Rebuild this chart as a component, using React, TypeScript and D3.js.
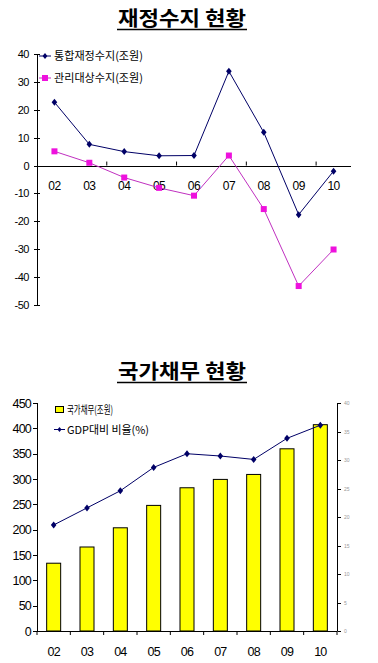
import React from "react";
import * as d3 from "d3";

const years = ["02", "03", "04", "05", "06", "07", "08", "09", "10"];
const consolidatedBalance = [22.7, 7.6, 5.0, 3.5, 3.6, 33.8, 11.9, -17.6, -2.0];
const managedBalance = [5.1, 1.0, -4.3, -8.0, -10.8, 3.6, -15.6, -43.2, -30.1];
const topTicks = [40, 30, 20, 10, 0, -10, -20, -30, -40, -50];

const nationalDebt = [133.8, 165.8, 203.7, 247.9, 282.7, 299.2, 309.0, 359.6, 407.2];
const gdpRatio = [18.6, 21.6, 24.6, 28.7, 31.1, 30.7, 30.1, 33.8, 36.1];
const leftTicks = [0, 50, 100, 150, 200, 250, 300, 350, 400, 450];
const rightTicks = [0, 5, 10, 15, 20, 25, 30, 35, 40];

const title1 = "재정수지 현황";
const title2 = "국가채무 현황";
const legendTop = ["통합재정수지(조원)", "관리대상수지(조원)"];
const legendBottom = ["국가채무(조원)", "GDP대비 비율(%)"];

const NAVY = "#000066";
const MAG_LINE = "#c030c0";
const MAG = "#ee11dd";
const KR = "'Noto Sans CJK KR', sans-serif";
const NUM = "'Liberation Sans', Arial, sans-serif";

function Diamond({ x, y, s = 3, color = NAVY }: any) {
  return (
    <path
      d={`M${x},${y - s}L${x + s * 0.8},${y}L${x},${y + s}L${x - s * 0.8},${y}Z`}
      fill={color}
    />
  );
}

export default function App() {
  // Top chart
  const xT = d3.scaleBand<string>().domain(years).range([37, 351]);
  const yT = d3.scaleLinear().domain([-50, 40]).range([305, 54]);
  const cxT = (i: number) => (xT(years[i]) as number) + xT.bandwidth() / 2;
  const lineT = d3
    .line<number>()
    .x((_, i) => cxT(i))
    .y((d) => yT(d));

  // Bottom chart
  const xB = d3.scaleBand<string>().domain(years).range([37, 337]);
  const yL = d3.scaleLinear().domain([0, 450]).range([631, 403]);
  const yR = d3.scaleLinear().domain([0, 40]).range([631, 403]);
  const cxB = (i: number) => (xB(years[i]) as number) + xB.bandwidth() / 2;
  const barW = xB.bandwidth() * 0.42;
  const lineB = d3
    .line<number>()
    .x((_, i) => cxB(i))
    .y((d) => yR(d));

  const boundariesT = years.map((_, i) => xT(years[i]) as number).concat([xT.range()[1]]);
  const boundariesB = years.map((_, i) => xB(years[i]) as number).concat([xB.range()[1]]);

  return (
    <svg
      width={378}
      height={663}
      style={{ position: "absolute", left: 0, top: 0, background: "#fff" }}
    >
      <rect x={0} y={0} width={378} height={663} fill="#fff" />
      {/* Title 1 */}
      <text x={182} y={26} textAnchor="middle" fontFamily={KR} fontWeight={700} fontSize={20} textLength={128} lengthAdjust="spacingAndGlyphs" fill="#000">
        {title1}
      </text>
      <line x1={117} x2={247} y1={29.5} y2={29.5} stroke="#000" strokeWidth={1.5} />

      {/* Top y axis */}
      <line x1={37.5} x2={37.5} y1={yT(40)} y2={yT(-50)} stroke="#000" />
      {topTicks.map((t) => (
        <g key={t}>
          <line x1={34} x2={40} y1={Math.round(yT(t)) + 0.5} y2={Math.round(yT(t)) + 0.5} stroke="#000" />
          <text x={29} y={yT(t) + 4} textAnchor="end" fontFamily={NUM} fontSize={11} letterSpacing={-0.5} fill="#000">
            {t}
          </text>
        </g>
      ))}
      {/* zero line */}
      <line x1={37} x2={351} y1={Math.round(yT(0)) + 0.5} y2={Math.round(yT(0)) + 0.5} stroke="#000" />
      {boundariesT
        .filter((_, i) => i % 2 === 0 && i > 0 && i < boundariesT.length - 1)
        .map((b, i) => (
          <line key={i} x1={b} x2={b} y1={yT(0) - 4} y2={yT(0)} stroke="#000" />
        ))}
      {years.map((c, i) => (
        <text key={c} x={cxT(i)} y={190} textAnchor="middle" fontFamily={NUM} fontSize={12} letterSpacing={-0.5} fill="#000">
          {c}
        </text>
      ))}
      {/* Lines */}
      <path d={lineT(managedBalance) as string} fill="none" stroke={MAG_LINE} strokeWidth={1} />
      <path d={lineT(consolidatedBalance) as string} fill="none" stroke={NAVY} strokeWidth={1} />
      {managedBalance.map((v, i) => (
        <rect key={i} x={cxT(i) - 3} y={yT(v) - 3} width={6} height={6} fill={MAG} />
      ))}
      {consolidatedBalance.map((v, i) => (
        <Diamond key={i} x={cxT(i)} y={yT(v)} s={3.5} />
      ))}
      {/* Top legend */}
      <line x1={39} x2={51} y1={56} y2={56} stroke={NAVY} />
      <Diamond x={45} y={56} s={3} />
      <text x={54} y={60} fontFamily={KR} fontSize={11} textLength={89} lengthAdjust="spacingAndGlyphs" fill="#000">
        {legendTop[0]}
      </text>
      <line x1={39} x2={51} y1={78} y2={78} stroke={MAG_LINE} />
      <rect x={42} y={75} width={6} height={6} fill={MAG} />
      <text x={54} y={82} fontFamily={KR} fontSize={11} textLength={89} lengthAdjust="spacingAndGlyphs" fill="#000">
        {legendTop[1]}
      </text>

      {/* Title 2 */}
      <text x={182} y={379} textAnchor="middle" fontFamily={KR} fontWeight={700} fontSize={20} textLength={128} lengthAdjust="spacingAndGlyphs" fill="#000">
        {title2}
      </text>
      <line x1={117} x2={247} y1={382.5} y2={382.5} stroke="#000" strokeWidth={1.5} />

      {/* Bars */}
      {nationalDebt.map((v, i) => (
        <rect
          key={i}
          x={cxB(i) - barW / 2}
          y={yL(v)}
          width={barW}
          height={yL(0) - yL(v)}
          fill="#ffff00"
          stroke="#000"
          strokeWidth={1}
        />
      ))}
      {/* Left axis */}
      <line x1={37.5} x2={37.5} y1={yL(450)} y2={yL(0)} stroke="#000" />
      {leftTicks.map((t) => (
        <g key={t}>
          <line x1={33} x2={37.5} y1={Math.round(yL(t)) + 0.5} y2={Math.round(yL(t)) + 0.5} stroke="#000" />
          <text x={31} y={yL(t) + 4.5} textAnchor="end" fontFamily={NUM} fontSize={12.5} letterSpacing={-0.8} fill="#000">
            {t}
          </text>
        </g>
      ))}
      {/* Bottom axis */}
      <line x1={37} x2={337} y1={Math.round(yL(0)) + 0.5} y2={Math.round(yL(0)) + 0.5} stroke="#000" />
      {boundariesB.map((b, i) => (
        <line key={i} x1={b} x2={b} y1={yL(0)} y2={yL(0) + 4} stroke="#000" />
      ))}
      {years.map((c, i) => (
        <text key={c} x={cxB(i)} y={656} textAnchor="middle" fontFamily={NUM} fontSize={12.5} letterSpacing={-0.8} fill="#000">
          {c}
        </text>
      ))}
      {/* Right axis */}
      <line x1={337.5} x2={337.5} y1={yR(40)} y2={yR(0)} stroke="#000" />
      {rightTicks.map((t) => (
        <g key={t}>
          <line x1={337.5} x2={341} y1={Math.round(yR(t)) + 0.5} y2={Math.round(yR(t)) + 0.5} stroke="#000" />
          <text x={344} y={yR(t) + 2} fontFamily={NUM} fontSize={5} fill="#999">
            {t}
          </text>
        </g>
      ))}
      {/* GDP line */}
      <path d={lineB(gdpRatio) as string} fill="none" stroke={NAVY} strokeWidth={1} />
      {gdpRatio.map((v, i) => (
        <Diamond key={i} x={cxB(i)} y={yR(v)} s={3.5} />
      ))}
      {/* Bottom legend */}
      <rect x={55.5} y={406.5} width={8} height={6} fill="#ffff00" stroke="#000" />
      <text x={67} y={414} fontFamily={KR} fontSize={11} textLength={46} lengthAdjust="spacingAndGlyphs" fill="#000">
        {legendBottom[0]}
      </text>
      <line x1={54} x2={65} y1={429.5} y2={429.5} stroke={NAVY} />
      <Diamond x={59.5} y={429.5} s={2.5} />
      <text x={67} y={433.5} fontFamily={KR} fontSize={11} textLength={82} lengthAdjust="spacingAndGlyphs" fill="#000">
        {legendBottom[1]}
      </text>
    </svg>
  );
}
